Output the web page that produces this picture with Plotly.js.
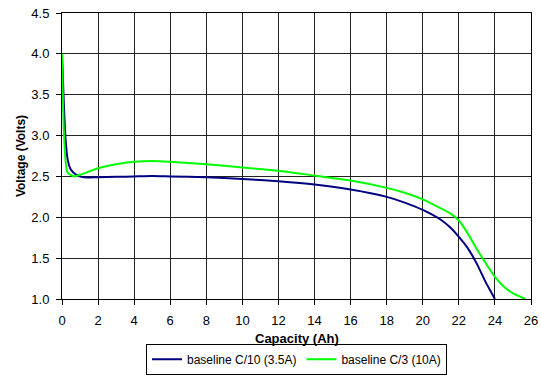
<!DOCTYPE html>
<html>
<head>
<meta charset="utf-8">
<script src="https://cdn.plot.ly/plotly-3.0.1.min.js"></script>
<style>html,body{margin:0;padding:0;background:#fff;}#chart{width:541px;height:376px;}</style>
</head>
<body>
<div id="chart"></div>
<script>
const seriesNames = ["baseline C/10 (3.5A)", "baseline C/3 (10A)"];
const c10Capacity = [0, 0.1, 0.2, 0.32, 0.5, 0.8, 1.2, 2, 3, 4, 5, 6, 8, 10, 12, 14, 16, 18, 19, 20, 21, 21.5, 22, 22.5, 23, 23.5, 23.8, 24];
const c10Voltage  = [4.0, 3.4, 2.95, 2.70, 2.58, 2.52, 2.49, 2.49, 2.495, 2.50, 2.505, 2.50, 2.49, 2.47, 2.44, 2.40, 2.34, 2.25, 2.18, 2.09, 1.97, 1.88, 1.76, 1.62, 1.43, 1.20, 1.08, 1.0];
const c3Capacity = [0, 0.3, 0.67, 1, 1.5, 2, 3, 4, 5, 6, 8, 10, 12, 14, 16, 18, 19, 20, 21, 21.5, 22, 22.5, 23, 23.4, 24, 24.5, 25, 25.4, 25.7];
const c3Voltage  = [4.0, 2.55, 2.50, 2.52, 2.56, 2.60, 2.65, 2.68, 2.69, 2.68, 2.65, 2.61, 2.57, 2.51, 2.45, 2.36, 2.30, 2.22, 2.11, 2.05, 1.96, 1.80, 1.61, 1.47, 1.27, 1.15, 1.07, 1.03, 1.0];
const xTicks = [0,2,4,6,8,10,12,14,16,18,20,22,24,26];
const yTicks = [1.0,1.5,2.0,2.5,3.0,3.5,4.0,4.5];
const xTitle = "Capacity (Ah)";
const yTitle = "Voltage (Volts)";

const fam = "Liberation Sans, Arial, sans-serif";
const tickFont = {family: fam, size: 13, color: "#000"};
const data = [
  {x: c10Capacity, y: c10Voltage, name: seriesNames[0], mode: "lines", line: {color: "#000080", width: 2, shape: "spline", smoothing: 0.5}},
  {x: c3Capacity, y: c3Voltage, name: seriesNames[1], mode: "lines", line: {color: "#00FF00", width: 2, shape: "spline", smoothing: 0.5}}
];
const axisCommon = {showline: true, linecolor: "#000", linewidth: 1, mirror: true, showgrid: true, gridcolor: "#222", gridwidth: 1, zeroline: false, ticks: "outside", ticklen: 5, tickcolor: "#000", tickfont: tickFont, ticklabelstandoff: 4, automargin: false};
const layout = {
  width: 541, height: 376,
  margin: {l: 62, r: 10, t: 13, b: 77, autoexpand: false},
  paper_bgcolor: "#fff", plot_bgcolor: "#fff",
  font: {family: fam, size: 12, color: "#000"},
  showlegend: true,
  legend: {orientation: "h", x: 0.5, xanchor: "center", yref: "container", y: 0.003, yanchor: "bottom", bordercolor: "#000", borderwidth: 1, font: {family: fam, size: 12, color: "#000"}, itemwidth: 30, tracegroupgap: 0},
  annotations: [{text: "<b>" + xTitle + "</b>", xref: "paper", yref: "paper", x: 0.5, y: -0.139, xanchor: "center", yanchor: "middle", showarrow: false, font: {family: fam, size: 13, color: "#000"}}],
  xaxis: Object.assign({}, axisCommon, {range: [0, 26], tickvals: xTicks, ticktext: xTicks.map(String)}),
  yaxis: Object.assign({}, axisCommon, {range: [1.0, 4.5], tickvals: yTicks, ticktext: yTicks.map(v => v.toFixed(1)), title: {text: "<b>" + yTitle + "</b>", font: {family: fam, size: 12, color: "#000"}, standoff: 3}})
};
Plotly.newPlot("chart", data, layout, {displayModeBar: false, staticPlot: true});
</script>
</body>
</html>
